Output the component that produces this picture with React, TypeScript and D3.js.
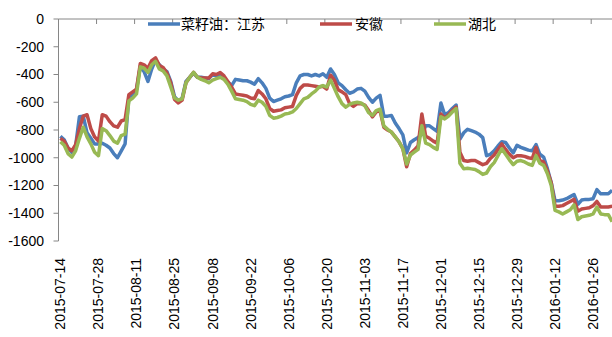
import React from 'react'
import * as d3 from 'd3'

const W = 612
const H = 337
const LEFT = 58.5
const TOP = 19
const BOTTOM = 241
const STEP = 3.805 // one trading day

const tickLabels = [
  '2015-07-14', '2015-07-28', '2015-08-11', '2015-08-25', '2015-09-08',
  '2015-09-22', '2015-10-06', '2015-10-20', '2015-11-03', '2015-11-17',
  '2015-12-01', '2015-12-15', '2015-12-29', '2016-01-12', '2016-01-26',
]
const yTicks = [0, -200, -400, -600, -800, -1000, -1200, -1400, -1600]

const seriesNames = ['菜籽油：江苏', '安徽', '湖北']
const seriesColors = ['#4a7ebb', '#be4b48', '#98b954']

const jiangsu = [
  -845, -870, -930, -960, -915, -705, -700, -820, -860, -900,
  -900, -895, -910, -930, -970, -1000, -950, -900, -560, -550,
  -510, -340, -380, -450, -360, -295, -330, -360, -380, -450,
  -560, -590, -570, -450, -420, -390, -420, -420, -425, -430,
  -400, -410, -400, -430, -455, -480, -435, -440, -445, -445,
  -455, -470, -430, -460, -500, -570, -595, -585, -575, -560,
  -555, -545, -460, -410, -400, -400, -410, -400, -410, -395,
  -420, -360, -400, -460, -480, -510, -535, -525, -505, -500,
  -520, -565, -600, -570, -550, -700, -700, -695, -750, -790,
  -835, -965, -890, -870, -855, -830, -770, -770, -790, -810,
  -605, -690, -675, -645, -620, -865, -820, -795, -805, -815,
  -830, -855, -985, -975, -950, -915, -885, -890, -930, -965,
  -910, -925, -935, -945, -950, -905, -975, -995, -1080, -1180,
  -1310, -1310, -1305, -1295, -1280, -1265, -1335, -1305, -1300, -1300,
  -1295, -1230, -1260, -1260, -1260, -1235,
]
const anhui = [
  -860, -880, -930, -950, -905, -790, -700, -690, -790, -850,
  -880, -690, -700, -740, -770, -780, -735, -725, -545, -525,
  -505, -320, -330, -355, -300, -280, -335, -350, -390, -460,
  -580, -605, -585, -460, -420, -385, -420, -425, -425, -425,
  -395, -400, -385, -410, -450, -490, -540, -545, -550, -555,
  -570, -575, -515, -540, -575, -645, -665, -660, -655, -640,
  -635, -630, -550, -500, -475, -475, -480, -485, -490, -485,
  -505, -405, -440, -510, -525, -545, -610, -630, -610, -610,
  -620, -660, -705, -670, -660, -780, -800, -815, -850, -885,
  -935, -1065, -970, -945, -915, -685, -845, -860, -880, -895,
  -685, -715, -690, -660, -635, -960, -1020, -1025, -1020, -1020,
  -1035, -1050, -1040, -1005, -980, -940, -900, -940, -975, -1000,
  -985, -985, -990, -1000, -1005, -925, -1020, -1030, -1095, -1180,
  -1350, -1350, -1345, -1330, -1315, -1300, -1385, -1370, -1365, -1360,
  -1345, -1315, -1355, -1355, -1355, -1350,
]
const hubei = [
  -885, -910, -970, -995, -950, -860, -780, -850, -900, -960,
  -985, -790, -805, -840, -880, -895, -840, -830, -590, -570,
  -540, -345, -355, -385, -330, -305, -360, -375, -410, -490,
  -570, -585, -575, -460, -420, -385, -420, -435, -445, -460,
  -440, -430, -420, -435, -470, -520, -575, -580, -585, -595,
  -615, -625, -585, -600, -630, -695, -715, -710, -700, -685,
  -680, -670, -645, -610, -575, -565, -540, -520, -490, -480,
  -490, -440, -500, -560, -610, -635, -615, -605, -600, -605,
  -625, -675, -695, -660, -650, -770, -795, -815, -850, -885,
  -935, -1045, -980, -960, -940, -770, -895, -905, -925, -940,
  -705, -720, -700, -670, -645, -1040, -1080, -1075, -1080, -1085,
  -1100, -1120, -1110, -1065, -1035, -985, -935, -975, -1015, -1050,
  -1025, -1020, -1030, -1045, -1055, -985, -1040, -1055, -1115, -1200,
  -1380, -1390, -1405, -1390, -1375, -1340, -1445, -1425, -1420, -1415,
  -1405, -1355, -1405, -1410, -1410, -1460,
]

const series = [jiangsu, anhui, hubei]
const FONT = '"Liberation Sans", Arial, sans-serif'
const CJK = '"Noto Sans CJK SC", "Liberation Sans", sans-serif'

export default function App() {
  const n = jiangsu.length
  const x = d3.scaleLinear().domain([0, n]).range([LEFT, LEFT + n * STEP])
  const y = d3.scaleLinear().domain([-1600, 0]).range([BOTTOM, TOP])

  const line = d3.line<number>()
    .x((d, i) => x(i + 0.5))
    .y(d => y(d))

  // tick marks every 10 categories, on the zero line at the top
  const xTickIdx = d3.range(0, n + 1, 10)

  const legend = [
    { x0: 148, tx: 181 },
    { x0: 320, tx: 355 },
    { x0: 434, tx: 468 },
  ]

  return (
    <svg width={W} height={H} style={{ position: 'absolute', left: 0, top: 0, background: '#fff' }}>
      <defs>
        <clipPath id="plot">
          <rect x={LEFT} y={0} width={W - LEFT} height={H} />
        </clipPath>
      </defs>

      {/* y axis */}
      <line x1={LEFT} x2={LEFT} y1={TOP} y2={BOTTOM} stroke="#868686" strokeWidth={1} />
      {yTicks.map(t => (
        <g key={t}>
          <line x1={LEFT - 5} x2={LEFT} y1={y(t)} y2={y(t)} stroke="#868686" />
          <text x={44} y={y(t)} dy="0.35em" textAnchor="end" fontSize={14} fontFamily={FONT} fill="#000">
            {t}
          </text>
        </g>
      ))}

      {/* category axis sits at 0 */}
      <line x1={LEFT} x2={W} y1={y(0)} y2={y(0)} stroke="#868686" />
      {xTickIdx.map(i => (
        <line key={i} x1={x(i)} x2={x(i)} y1={y(0)} y2={y(0) + 5} stroke="#868686" />
      ))}
      {tickLabels.map((lab, k) => {
        const cx = x(k * 10 + 0.5)
        return (
          <text key={lab} transform={`translate(${cx},258) rotate(-90)`} dy="0.35em"
            textAnchor="end" fontSize={14} fontFamily={FONT} fill="#000">
            {lab}
          </text>
        )
      })}

      <g clipPath="url(#plot)">
        {series.map((s, k) => (
          <path key={k} d={line(s) || ''} fill="none" stroke={seriesColors[k]}
            strokeWidth={3.5} strokeLinejoin="round" />
        ))}
      </g>

      {legend.map((l, k) => (
        <g key={k}>
          <line x1={l.x0} x2={l.x0 + 32} y1={24} y2={24} stroke={seriesColors[k]} strokeWidth={3.5} />
          <text x={l.tx} y={24} dy="0.35em" fontSize={14} fontFamily={CJK} fill="#000">
            {seriesNames[k]}
          </text>
        </g>
      ))}
    </svg>
  )
}
